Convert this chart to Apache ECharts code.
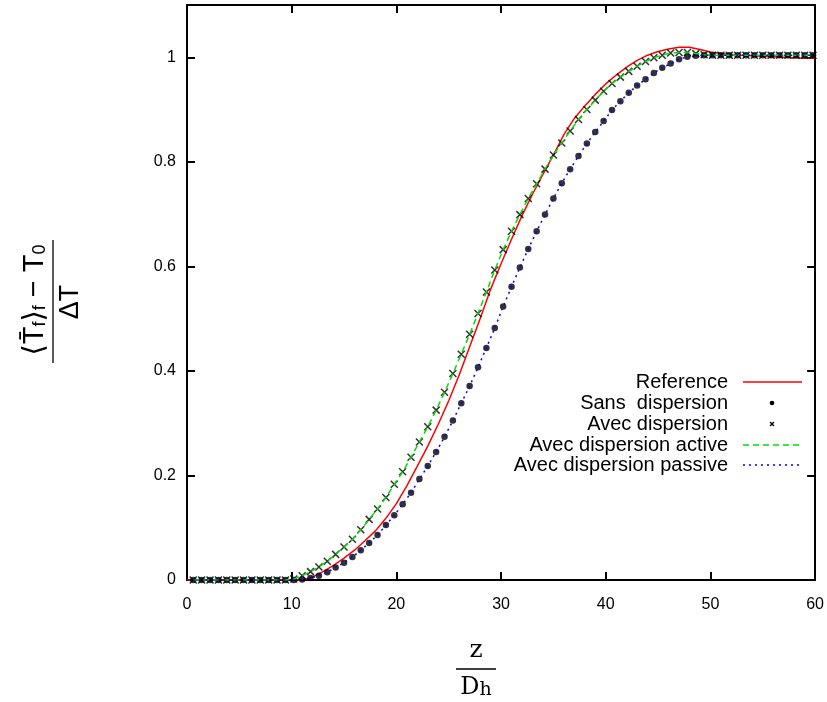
<!DOCTYPE html>
<html>
<head>
<meta charset="utf-8">
<script src="https://cdn.jsdelivr.net/npm/echarts@6/dist/echarts.min.js"></script>
<style>html,body{margin:0;padding:0;background:#fff;}#c{width:827px;height:702px;}</style>
</head>
<body>
<div id="c"></div>
<script>
// x positions of the simulated points (z / D_h)
const ptX = [0.6,1.4,2.2,3.0,3.8,4.6,5.4,6.2,7.0,7.8,8.6,9.4,10.2,11.0,11.8,12.6,13.4,14.2,15.0,15.8,
  16.6,17.4,18.2,19.0,19.8,20.6,21.4,22.2,23.0,23.8,24.6,25.4,26.2,27.0,27.8,28.6,29.4,30.2,31.0,31.8,
  32.6,33.4,34.2,35.0,35.8,36.6,37.4,38.2,39.0,39.8,40.6,41.4,42.2,43.0,43.8,44.6,45.4,46.2,47.0,47.8,
  48.6,49.4,50.2,51.0,51.8,52.6,53.4,54.2,55.0,55.8,56.6,57.4,58.2,59.0,59.8];
// Sans dispersion (dots) and Avec dispersion (crosses)
const sansY = [0,0,0,0,0,0,0,0,0,0,0,0,0,0.001,0.004,0.008,0.015,0.024,0.033,0.044,
  0.057,0.071,0.086,0.105,0.124,0.145,0.167,0.193,0.218,0.245,0.274,0.305,0.338,0.371,0.407,0.444,0.482,0.523,0.561,0.598,
  0.633,0.667,0.699,0.730,0.759,0.786,0.811,0.835,0.857,0.878,0.899,0.916,0.932,0.946,0.958,0.970,0.980,0.988,0.996,1.001,
  1.003,1.004,1.004,1.004,1.004,1.004,1.004,1.004,1.004,1.004,1.004,1.004,1.004,1.004,1.004];
const avecY = [0,0,0,0,0,0,0,0,0,0,0,0,0.002,0.008,0.016,0.025,0.036,0.049,0.063,0.078,
  0.096,0.116,0.136,0.158,0.183,0.207,0.235,0.264,0.293,0.325,0.359,0.395,0.432,0.470,0.510,0.551,0.593,0.632,0.667,0.699,
  0.730,0.758,0.786,0.813,0.836,0.859,0.881,0.900,0.918,0.935,0.950,0.962,0.973,0.983,0.992,0.999,1.004,1.008,1.009,1.009,
  1.007,1.005,1.004,1.004,1.004,1.004,1.004,1.004,1.004,1.004,1.004,1.004,1.004,1.004,1.004];
// Reference curve
const refX = [0,1,2,3,4,5,6,7,8,9,10,11,12,13,14,15,16,17,18,19,20,21,22,23,24,25,26,27,28,29,30,
  31,32,33,34,35,36,37,38,39,40,41,42,43,44,45,46,47,48,49,50,51,52,53,54,55,56,57,58,59,60];
const refY = [0,0,0,0,0,0,0,0,0,0,0,0,0.006,0.016,0.028,0.042,0.057,0.075,0.094,0.118,0.146,0.180,0.218,0.256,0.298,0.343,
  0.392,0.446,0.500,0.556,0.605,0.652,0.697,0.738,0.776,0.813,0.852,0.883,0.907,0.929,0.949,0.966,0.981,0.994,1.004,1.011,
  1.016,1.019,1.019,1.015,1.010,1.007,1.005,1.004,1.003,1.002,1.001,1.000,0.999,0.998,0.998];
const xTicks = [0,10,20,30,40,50,60];
const yTicks = [0,0.2,0.4,0.6,0.8,1];
const legendNames = ['Reference','Sans  dispersion','Avec dispersion','Avec dispersion active','Avec dispersion passive'];

const pairs = (xs, ys) => xs.map((x, i) => [x, ys[i]]);
const FONT = '"Liberation Sans", "DejaVu Sans", sans-serif';
const SERIF = '"DejaVu Serif", serif';
const crossPath = 'path://M0,0L10,10M10,0L0,10';

function axisBase(extra) {
  return Object.assign({
    type: 'value',
    axisLine: { show: true, onZero: false, lineStyle: { color: '#000', width: 2 } },
    axisTick: { show: true, inside: true, length: 8, lineStyle: { color: '#000', width: 2 } },
    splitLine: { show: false }
  }, extra);
}

const chart = echarts.init(document.getElementById('c'), null, { renderer: 'canvas' });

const legendRowY = [382, 403, 424, 445, 465];
const legendGraphics = [];
legendNames.forEach((n, i) => {
  legendGraphics.push({ type: 'text', x: 728, y: legendRowY[i],
    style: { text: n, font: '20px ' + FONT, fill: '#000', textAlign: 'right', textVerticalAlign: 'middle' } });
});
legendGraphics.push({ type: 'line', shape: { x1: 743, y1: 382, x2: 802, y2: 382 }, style: { stroke: '#ff0000', lineWidth: 1.5 } });
legendGraphics.push({ type: 'circle', shape: { cx: 772, cy: 403, r: 2.3 }, style: { fill: '#000' } });
legendGraphics.push({ type: 'line', shape: { x1: 770, y1: 422, x2: 774, y2: 426 }, style: { stroke: '#000', lineWidth: 1.2 } });
legendGraphics.push({ type: 'line', shape: { x1: 774, y1: 422, x2: 770, y2: 426 }, style: { stroke: '#000', lineWidth: 1.2 } });
legendGraphics.push({ type: 'line', shape: { x1: 743, y1: 445, x2: 802, y2: 445 }, style: { stroke: '#00e000', lineWidth: 1.5, lineDash: [6, 4] } });
legendGraphics.push({ type: 'line', shape: { x1: 743, y1: 465, x2: 802, y2: 465 }, style: { stroke: '#0000ff', lineWidth: 1.5, lineDash: [2, 4] } });

const titleGraphics = [
  // y-axis title: fraction
  { type: 'line', shape: { x1: 53, y1: 240, x2: 53, y2: 363 }, style: { stroke: '#000', lineWidth: 1.3 } },
  { type: 'text', x: 35, y: 300, rotation: Math.PI / 2,
    style: { text: '\u27E8T\u0304{s|f}\u27E9{s|f} \u2212 T{s|0}', font: '29px ' + FONT, fill: '#000',
      textAlign: 'center', textVerticalAlign: 'middle',
      rich: { s: { fontSize: 18, fontFamily: FONT, verticalAlign: 'bottom', lineHeight: 14 } } } },
  { type: 'text', x: 71, y: 302, rotation: Math.PI / 2,
    style: { text: '\u0394T', font: '27px ' + FONT, fill: '#000', textAlign: 'center', textVerticalAlign: 'middle' } },
  // x-axis title: fraction
  { type: 'text', x: 476, y: 650,
    style: { text: 'z', font: '25px ' + SERIF, fill: '#000', textAlign: 'center', textVerticalAlign: 'middle' } },
  { type: 'line', shape: { x1: 456, y1: 669, x2: 496, y2: 669 }, style: { stroke: '#000', lineWidth: 1.3 } },
  { type: 'text', x: 476, y: 688,
    style: { text: 'D{s|h}', font: '24px ' + SERIF, fill: '#000', textAlign: 'center', textVerticalAlign: 'middle',
      rich: { s: { fontSize: 19, fontFamily: SERIF, verticalAlign: 'bottom', lineHeight: 16 } } } }
];

chart.setOption({
  animation: false,
  backgroundColor: '#fff',
  grid: { left: 187, right: 11, top: 5, bottom: 122, containLabel: false },
  xAxis: [
    axisBase({ min: 0, max: 60, interval: 10, position: 'bottom',
      axisLabel: { color: '#000', fontSize: 16, fontFamily: FONT, margin: 17,
        formatter: v => (xTicks.indexOf(v) >= 0 ? String(v) : '') } }),
    axisBase({ min: 0, max: 60, interval: 10, position: 'top', axisLabel: { show: false } })
  ],
  yAxis: [
    axisBase({ min: 0, max: 1.1, interval: 0.2, position: 'left',
      axisLabel: { color: '#000', fontSize: 16, fontFamily: FONT, margin: 11, showMaxLabel: false,
        formatter: v => { const t = yTicks.find(y => Math.abs(y - v) < 1e-9); return t === undefined ? '' : String(t); } } }),
    axisBase({ min: 0, max: 1.1, interval: 0.2, position: 'right', axisLabel: { show: false } })
  ],
  series: [
    { name: legendNames[0], type: 'line', data: pairs(refX, refY), showSymbol: false, symbol: 'none',
      lineStyle: { color: '#ff0000', width: 1.5 }, z: 2 },
    { name: legendNames[1], type: 'scatter', data: pairs(ptX, sansY), symbol: 'circle', symbolSize: 6.5,
      itemStyle: { color: '#000' }, z: 3 },
    { name: legendNames[2], type: 'scatter', data: pairs(ptX, avecY), symbol: crossPath, symbolSize: 7,
      itemStyle: { color: 'rgba(0,0,0,0)', borderColor: '#000', borderWidth: 1.5 }, z: 3 },
    { name: legendNames[3], type: 'line', data: pairs(ptX, avecY), showSymbol: false, symbol: 'none',
      lineStyle: { color: '#00e000', width: 1.5, type: [6, 4] }, z: 4 },
    { name: legendNames[4], type: 'line', data: pairs(ptX, sansY), showSymbol: false, symbol: 'none',
      lineStyle: { color: '#0000ff', width: 1.5, type: [2, 4] }, z: 4 }
  ],
  graphic: legendGraphics.concat(titleGraphics)
});
</script>
</body>
</html>
